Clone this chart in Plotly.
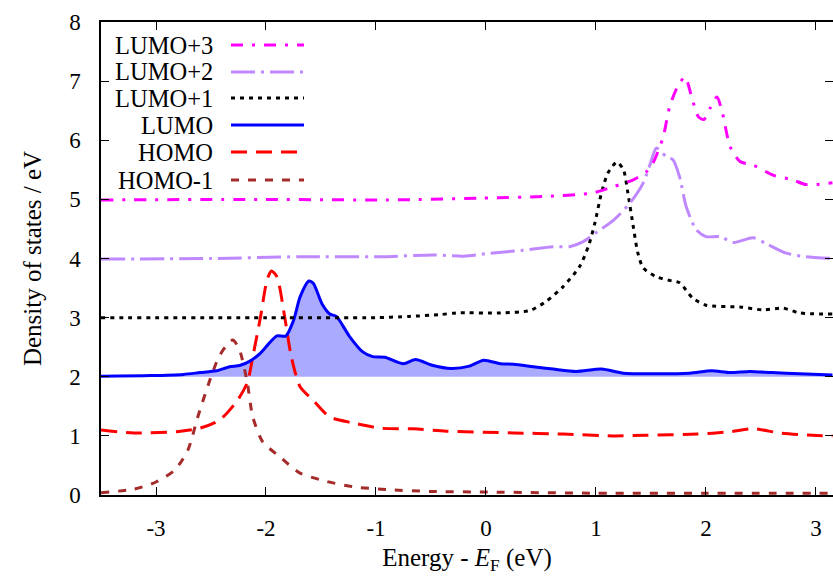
import plotly.graph_objects as go

# Projected density of states of the frontier orbitals, offset by 1 eV^-1 each
e_homo1 = [-3.5, -3.2, -3.0, -2.83, -2.71, -2.62, -2.52, -2.43, -2.35, -2.30, -2.24,
           -2.17, -2.12, -2.03, -1.87, -1.69, -1.45, -1.21, -0.9, -0.5, 0.0, 1.0, 2.0, 3.15]
d_homo1 = [0.04, 0.10, 0.22, 0.42, 0.76, 1.32, 1.89, 2.33, 2.55, 2.62, 2.45,
           1.9, 1.32, 0.9, 0.64, 0.37, 0.23, 0.14, 0.09, 0.06, 0.05, 0.03, 0.03, 0.03]

e_homo = [-3.5, -3.2, -2.81, -2.6, -2.42, -2.26, -2.17, -2.12, -2.05, -1.99, -1.95, -1.90,
          -1.83, -1.77, -1.69, -1.57, -1.42, -1.21, -0.96, -0.66, -0.36, 0.25, 0.70, 1.16,
          1.46, 1.92, 2.22, 2.43, 2.67, 2.97, 3.15]
d_homo = [1.10, 1.05, 1.07, 1.13, 1.27, 1.6, 1.9, 2.34, 3.01, 3.64, 3.79, 3.69,
          3.01, 2.34, 1.83, 1.6, 1.32, 1.22, 1.13, 1.12, 1.08, 1.05, 1.03, 1.0,
          1.01, 1.03, 1.07, 1.12, 1.05, 1.01, 1.0]

e_lumo = [-3.5, -3.05, -2.75, -2.6, -2.45, -2.33, -2.24, -2.15, -2.05, -1.96, -1.9, -1.82,
          -1.75, -1.69, -1.61, -1.57, -1.49, -1.42, -1.36, -1.24, -1.12, -1.03, -0.92,
          -0.75, -0.64, -0.48, -0.32, -0.15, -0.02, 0.13, 0.25, 0.43, 0.61, 0.82, 1.05,
          1.25, 1.5, 1.85, 2.05, 2.22, 2.4, 2.6, 2.85, 3.15]
d_lumo = [2.01, 2.02, 2.04, 2.07, 2.1, 2.17, 2.19, 2.26, 2.4, 2.59, 2.69, 2.69,
          2.95, 3.35, 3.62, 3.58, 3.23, 3.06, 3.02, 2.68, 2.42, 2.34, 2.33,
          2.22, 2.29, 2.19, 2.14, 2.18, 2.28, 2.22, 2.21, 2.17, 2.13, 2.09, 2.13,
          2.06, 2.05, 2.06, 2.1, 2.07, 2.09, 2.07, 2.05, 2.03]

e_lumo1 = [-3.5, -2.0, -1.0, -0.7, -0.42, -0.27, 0.13, 0.4, 0.55, 0.7, 0.85, 0.93, 0.99,
           1.05, 1.11, 1.19, 1.25, 1.29, 1.34, 1.38, 1.43, 1.55, 1.69, 1.76, 1.88, 2.0,
           2.31, 2.52, 2.7, 2.85, 3.15]
d_lumo1 = [3.0, 3.0, 3.0, 3.02, 3.05, 3.08, 3.08, 3.12, 3.28, 3.52, 3.86, 4.2, 4.6,
           5.11, 5.45, 5.63, 5.5, 5.11, 4.53, 4.1, 3.84, 3.69, 3.62, 3.59, 3.33, 3.21,
           3.18, 3.13, 3.16, 3.08, 3.06]

e_lumo2 = [-3.5, -2.5, -1.69, -0.96, -0.48, -0.2, 0.04, 0.34, 0.61, 0.76, 0.88, 1.01,
           1.16, 1.31, 1.43, 1.49, 1.55, 1.64, 1.7, 1.76, 1.82, 1.91, 2.0, 2.13, 2.25,
           2.43, 2.55, 2.73, 2.91, 3.15]
d_lumo2 = [3.99, 4.0, 4.03, 4.03, 4.06, 4.04, 4.09, 4.14, 4.2, 4.2, 4.28, 4.45,
           4.65, 4.94, 5.28, 5.58, 5.87, 5.72, 5.67, 5.38, 4.88, 4.49, 4.37, 4.37, 4.27,
           4.35, 4.25, 4.09, 4.03, 4.0]

e_lumo3 = [-3.5, -2.0, -0.9, -0.05, 0.55, 0.97, 1.15, 1.34, 1.46, 1.52, 1.61, 1.67,
           1.74, 1.81, 1.87, 1.93, 1.98, 2.04, 2.1, 2.15, 2.22, 2.31, 2.43, 2.61, 2.79,
           2.91, 3.15]
d_lumo3 = [4.99, 5.0, 4.99, 5.02, 5.05, 5.11, 5.21, 5.33, 5.47, 5.62, 6.05, 6.57,
           6.9, 7.07, 6.73, 6.4, 6.35, 6.55, 6.73, 6.46, 5.89, 5.64, 5.58, 5.41, 5.33,
           5.25, 5.28]

x_ticks = [-3, -2, -1, 0, 1, 2, 3]
x_tick_text = ["-3", "-2", "-1", "0", "1", "2", "3"]
y_ticks = [0, 1, 2, 3, 4, 5, 6, 7, 8]

FONT = "Liberation Serif, Times New Roman, DejaVu Serif, serif"

# (label, energies, dos, colour, dash pattern)
series = [
    ("LUMO+3", e_lumo3, d_lumo3, "#ff00ff", "12px,9px,3px,9px"),
    ("LUMO+2", e_lumo2, d_lumo2, "#bf88ff", "24px,6px,3px,6px"),
    ("LUMO+1", e_lumo1, d_lumo1, "#000000", "4px,5px"),
    ("LUMO", e_lumo, d_lumo, "#0000ff", "solid"),
    ("HOMO", e_homo, d_homo, "#ff0000", "16px,9px"),
    ("HOMO-1", e_homo1, d_homo1, "#a52a2a", "8px,9px"),
]

fig = go.Figure()

# shaded LUMO area above its offset baseline of 2
fig.add_trace(go.Scatter(x=[e_lumo[0], e_lumo[-1]], y=[2, 2], mode="lines",
                         line=dict(width=0), hoverinfo="skip", showlegend=False))
fig.add_trace(go.Scatter(x=e_lumo, y=d_lumo, mode="lines", fill="tonexty",
                         fillcolor="rgb(170,170,255)",
                         line=dict(width=0, shape="spline", smoothing=0.7),
                         hoverinfo="skip", showlegend=False))

for name, ex, dy, col, dash in reversed(series):
    fig.add_trace(go.Scatter(x=ex, y=dy, mode="lines", name=name, showlegend=False,
                             line=dict(color=col, width=3, dash=dash,
                                       shape="spline", smoothing=0.7)))

# key in the upper-left corner: right-aligned label followed by a line sample
x0, x1 = 101, 833
y0, y1 = 22, 495
def px(xp):
    return (xp - x0) / (x1 - x0)
def py(yp):
    return (y1 - yp) / (y1 - y0)

row_y = [45, 72, 98, 125, 152, 180]
for (name, _, _, col, dash), ry in zip(series, row_y):
    fig.add_annotation(x=px(214), y=py(ry), xref="paper", yref="paper",
                       text=name, showarrow=False, xanchor="right", yanchor="middle",
                       borderpad=0,
                       font=dict(family=FONT, size=24.5, color="black"))
    fig.add_shape(type="line", xref="paper", yref="paper",
                  x0=px(231), x1=px(304), y0=py(ry), y1=py(ry),
                  line=dict(color=col, width=3, dash=dash))

axis_common = dict(
    showline=True, linecolor="black", linewidth=1.5, mirror="ticks",
    ticks="inside", ticklen=8, tickwidth=1.2, tickcolor="black",
    showgrid=False, zeroline=False,
    tickfont=dict(family=FONT, size=23, color="black"),
)

fig.update_xaxes(range=[-3.5, 3.155], tickvals=x_ticks, ticktext=x_tick_text,
                 ticklabelstandoff=12,
                 title=dict(text="Energy - <i>E</i><sub>F</sub> (eV)",
                            font=dict(family=FONT, size=25, color="black"),
                            standoff=8),
                 **axis_common)
fig.update_yaxes(range=[0, 8], tickvals=y_ticks, ticklabelstandoff=14,
                 title=dict(text="Density of states / eV",
                            font=dict(family=FONT, size=25, color="black"),
                            standoff=20),
                 **axis_common)

fig.update_layout(
    width=833, height=579,
    margin=dict(l=101, r=0, t=22, b=84, autoexpand=False),
    plot_bgcolor="white", paper_bgcolor="white",
    showlegend=False,
)

fig.write_html("out.html")
